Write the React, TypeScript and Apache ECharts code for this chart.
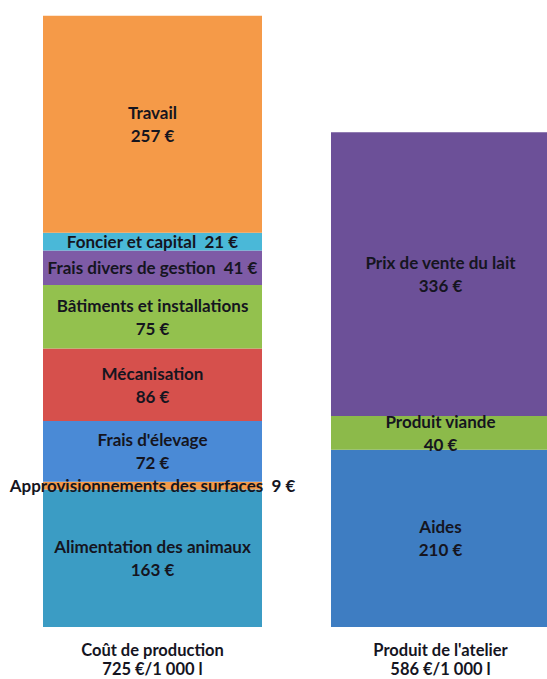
import React, { useEffect, useRef } from "react";
import * as echarts from "echarts";

const categories = ["Coût de production\n725 €/1 000 l", "Produit de l'atelier\n586 €/1 000 l"];

// Left bar (cost), from bottom to top
const costNames = [
  "Alimentation des animaux",
  "Approvisionnements des surfaces",
  "Frais d'élevage",
  "Mécanisation",
  "Bâtiments et installations",
  "Frais divers de gestion",
  "Foncier et capital",
  "Travail",
];
const costValues = [163, 9, 72, 86, 75, 41, 21, 257];
const costColors = ["#3b9cc4", "#f59a48", "#4a8ad6", "#d6504c", "#93c14e", "#7e5ba6", "#4ab8d8", "#f59a48"];
const costInline = [false, true, false, false, false, true, true, false];

// Right bar (product), from bottom to top
const prodNames = ["Aides", "Produit viande", "Prix de vente du lait"];
const prodValues = [210, 40, 336];
const prodColors = ["#3e7dc2", "#8cba4a", "#6c5098"];

const FONT = "Lato, 'Open Sans', sans-serif";

export default function App() {
  const ref = useRef<HTMLDivElement>(null);
  useEffect(() => {
    if (!ref.current) return;
    const chart = echarts.init(ref.current, null, { renderer: "svg" });
    const mkLabel = (name: string, inline: boolean) => ({
      show: true,
      position: "inside",
      color: "#15151f",
      fontFamily: FONT,
      fontWeight: "bold",
      fontSize: 17,
      lineHeight: 23,
      overflow: "none",
      formatter: (p: any) => (inline ? `${name}  ${p.value} €` : `${name}\n${p.value} €`),
    });
    const series: any[] = [];
    costNames.forEach((n, i) => {
      series.push({
        type: "bar",
        name: n,
        stack: "s",
        barWidth: 219,
        data: [costValues[i], "-"],
        itemStyle: { color: costColors[i] },
        label: mkLabel(n, costInline[i]),
      });
    });
    prodNames.forEach((n, i) => {
      series.push({
        type: "bar",
        name: n,
        stack: "s",
        barWidth: 219,
        data: ["-", prodValues[i]],
        itemStyle: { color: prodColors[i] },
        label: mkLabel(n, false),
      });
    });
    chart.setOption({
      animation: false,
      backgroundColor: "#ffffff",
      grid: { left: 8.5, width: 576, top: 15, bottom: 52, outerBoundsMode: "none", containLabel: false },
      xAxis: {
        type: "category",
        data: categories,
        axisLine: { show: false },
        axisTick: { show: false },
        axisLabel: {
          color: "#15151f",
          fontFamily: FONT,
          fontWeight: "bold",
          fontSize: 16.5,
          lineHeight: 19.5,
          margin: 13,
          interval: 0,
        },
      },
      yAxis: {
        type: "value",
        min: 0,
        max: 725,
        show: false,
        splitLine: { show: false },
      },
      series,
    });
    return () => chart.dispose();
  }, []);
  return (
    <div
      ref={ref}
      style={{ position: "absolute", left: 0, top: 0, width: 547, height: 679 }}
    />
  );
}
